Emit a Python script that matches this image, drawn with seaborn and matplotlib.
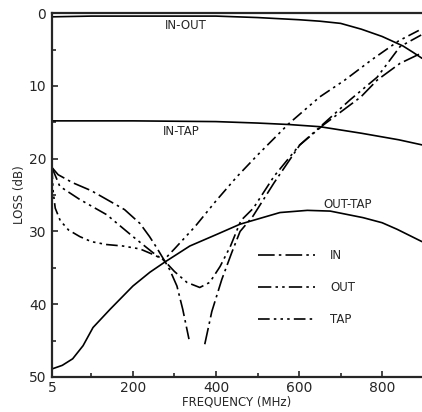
import numpy as np
import matplotlib
matplotlib.use("Agg")
import matplotlib.pyplot as plt
import seaborn as sns

# values (frequency in MHz, loss in dB)
in_out_freq = [5, 100, 200, 300, 400, 500, 600, 650, 700, 750, 800, 850, 875, 896]
in_out_loss = [0.5, 0.4, 0.4, 0.4, 0.4, 0.6, 0.9, 1.1, 1.4, 2.2, 3.2, 4.5, 5.4, 6.2]

in_tap_freq = [5, 200, 400, 500, 575, 650, 750, 840, 896]
in_tap_loss = [14.8, 14.8, 14.9, 15.1, 15.3, 15.6, 16.5, 17.4, 18.1]

out_tap_freq = [5, 30, 55, 80, 104, 145, 200, 241, 277, 337, 402, 458, 500, 554, 620, 675, 754, 800, 836, 896]
out_tap_loss = [48.9, 48.4, 47.5, 45.7, 43.2, 40.7, 37.5, 35.6, 34.2, 32.0, 30.4, 29.0, 28.3, 27.4, 27.1, 27.2, 28.1, 28.8, 29.7, 31.4]

# IN has a deep notch: the gap (nan) is where the trace runs off the scale
in_freq = [5, 20, 55, 100, 137, 180, 217, 240, 258, 277, 289, 306, 320, 335, 355,
           373, 390, 414, 438, 458, 489, 540, 602, 660, 749, 788, 843, 894]
in_loss = [21.2, 22.2, 23.3, 24.4, 25.6, 27.0, 28.9, 30.7, 32.3, 34.1, 35.3, 37.5, 40.7, 44.8, np.nan,
           45.5, 41.0, 36.6, 32.9, 30.0, 27.9, 23.3, 18.1, 15.3, 11.5, 9.2, 6.9, 5.5]

out_freq = [5, 24, 72, 137, 200, 248, 277, 300, 330, 361, 385, 410, 435, 460, 490,
            540, 600, 655, 723, 788, 843, 894]
out_loss = [21.2, 23.8, 25.6, 27.7, 30.7, 32.9, 34.1, 35.5, 37.0, 37.7, 37.0, 34.8, 32.0, 28.5, 26.8,
            22.4, 18.2, 15.4, 11.9, 8.8, 4.6, 3.0]

tap_freq = [5, 8, 13, 25, 45, 72, 100, 137, 176, 217, 250, 275, 300, 350, 400, 450,
            500, 575, 650, 710, 775, 840, 894]
tap_loss = [21.2, 24.5, 26.8, 28.5, 29.8, 30.7, 31.4, 31.8, 32.0, 32.4, 33.2, 33.9, 32.4, 29.3, 25.8, 22.5,
            19.5, 15.2, 11.5, 9.2, 6.4, 3.8, 2.2]

sns.set_style("ticks")
plt.rcParams['font.family'] = ['DejaVu Sans']

fig = plt.figure(figsize=(4.22, 4.12), dpi=100)
ax = fig.add_axes([0.123, 0.085, 0.877, 0.883])

black = "black"
lw = 1.2

# solid curves
sns.lineplot(x=in_out_freq, y=in_out_loss, ax=ax, color=black, lw=lw, sort=False, estimator=None)
sns.lineplot(x=in_tap_freq, y=in_tap_loss, ax=ax, color=black, lw=lw, sort=False, estimator=None)
sns.lineplot(x=out_tap_freq, y=out_tap_loss, ax=ax, color=black, lw=lw, sort=False, estimator=None)

styles = {
    "IN": (0, (10, 2.5, 1.5, 2.5)),
    "OUT": (0, (8, 2.5, 1.5, 2.5, 1.5, 2.5)),
    "TAP": (0, (7, 2.5, 1.5, 2.5, 1.5, 2.5, 1.5, 2.5)),
}

handles = []

def draw(freq, loss, name):
    f = np.array(freq, dtype=float)
    l = np.array(loss, dtype=float)
    # split at missing values so the notch is left open
    breaks = np.where(np.isnan(l))[0]
    parts = np.split(np.arange(len(l)), breaks)
    for idx in parts:
        idx = idx[~np.isnan(l[idx])]
        if len(idx) == 0:
            continue
        sns.lineplot(x=f[idx], y=l[idx], ax=ax, color=black, lw=lw, sort=False, estimator=None)
        ax.lines[-1].set_linestyle(styles[name])
    line = ax.lines[-1]
    line.set_label(name)
    handles.append(line)

draw(in_freq, in_loss, "IN")
draw(out_freq, out_loss, "OUT")
draw(tap_freq, tap_loss, "TAP")

ax.set_xlim(5, 896)
ax.set_ylim(50, 0)
ax.set_xticks([5, 200, 400, 600, 800])
ax.set_xticks([100, 300, 500, 700], minor=True)
ax.set_yticks([0, 10, 20, 30, 40, 50])
ax.set_yticks([5, 15, 25, 35, 45], minor=True)
ax.tick_params(which="both", direction="in", length=4, width=1.2, labelsize=10)
ax.tick_params(which="minor", length=3)
ax.tick_params(axis="x", pad=3)
ax.tick_params(axis="y", pad=4)

for side in ["left", "bottom", "top"]:
    ax.spines[side].set_linewidth(1.6)
ax.spines["right"].set_visible(False)

ax.set_xlabel("FREQUENCY (MHz)", fontsize=8.5, labelpad=0)
ax.set_ylabel("LOSS (dB)", fontsize=8.5, labelpad=2)

ax.text(277, 1.7, "IN-OUT", fontsize=8.5, va="center", ha="left")
ax.text(273, 16.3, "IN-TAP", fontsize=8.5, va="center", ha="left")
ax.text(716, 26.3, "OUT-TAP", fontsize=8.5, va="center", ha="center")

ax.legend(handles=handles, loc="upper left", bbox_to_anchor=(0.557, 0.352), frameon=False,
          fontsize=8.5, handlelength=4.8, handletextpad=1.3, labelspacing=1.6,
          borderpad=0, borderaxespad=0)

plt.savefig("out.png", dpi=100)
